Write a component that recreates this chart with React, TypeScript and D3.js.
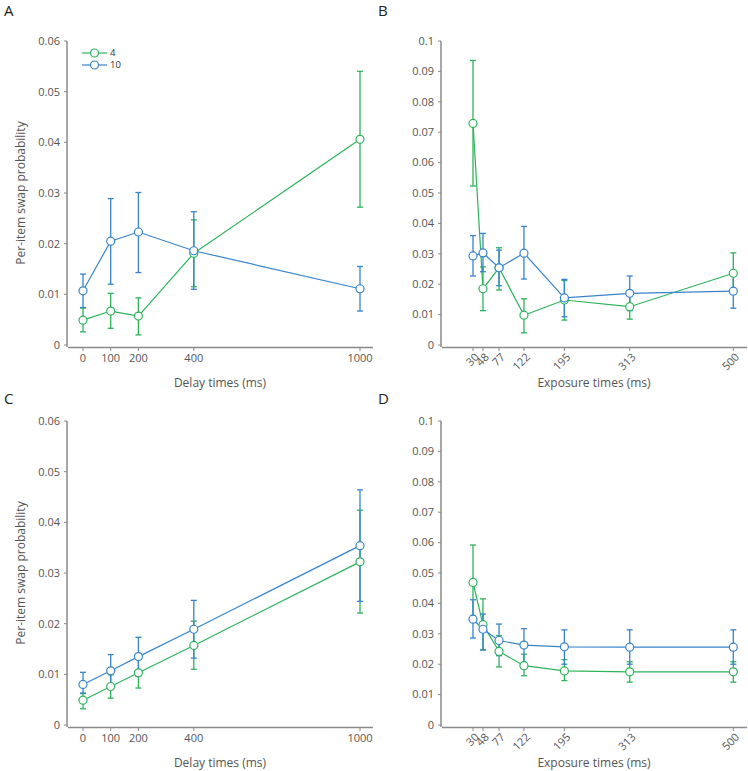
import React from "react";
import * as d3 from "d3";

const GREEN = "#2db35a";
const BLUE = "#3784cc";
const AXIS = "#8a8a8a";
const TEXT = "#555";

// Panel A / C: delay times
const delayTimes = [0, 100, 200, 400, 1000];
const delayTicks = [0, 100, 200, 400, 1000];
const delayYTicks = [0, 0.01, 0.02, 0.03, 0.04, 0.05, 0.06];

// Panel B / D: exposure times
const exposureTimes = [30, 48, 77, 122, 195, 313, 500];
const exposureTicks = [30, 48, 77, 122, 195, 313, 500];
const exposureYTicks = [0, 0.01, 0.02, 0.03, 0.04, 0.05, 0.06, 0.07, 0.08, 0.09, 0.1];

// A
const aGreen = [0.0049, 0.0067, 0.0057, 0.0181, 0.0406];
const aGreenLo = [0.0026, 0.0033, 0.002, 0.0115, 0.0272];
const aGreenHi = [0.0073, 0.0102, 0.0093, 0.0247, 0.054];
const aBlue = [0.0107, 0.0205, 0.0223, 0.0186, 0.0111];
const aBlueLo = [0.0074, 0.012, 0.0143, 0.011, 0.0067];
const aBlueHi = [0.014, 0.0289, 0.0301, 0.0263, 0.0155];

// B
const bGreen = [0.0729, 0.0185, 0.0254, 0.0098, 0.0148, 0.0126, 0.0236];
const bGreenLo = [0.0523, 0.0113, 0.0181, 0.004, 0.0082, 0.0085, 0.0168];
const bGreenHi = [0.0936, 0.0257, 0.032, 0.0152, 0.0212, 0.0168, 0.0303];
const bBlue = [0.0293, 0.0303, 0.0254, 0.0302, 0.0155, 0.017, 0.0177];
const bBlueLo = [0.0227, 0.0241, 0.0195, 0.0217, 0.0093, 0.0113, 0.0121];
const bBlueHi = [0.036, 0.0367, 0.0312, 0.039, 0.0216, 0.0227, 0.0233];

// C
const cGreen = [0.0049, 0.0076, 0.0103, 0.0157, 0.0322];
const cGreenLo = [0.0032, 0.0053, 0.0073, 0.011, 0.0221];
const cGreenHi = [0.0062, 0.0099, 0.013, 0.0205, 0.0424];
const cBlue = [0.008, 0.0107, 0.0135, 0.0189, 0.0354];
const cBlueLo = [0.0063, 0.0081, 0.0096, 0.0132, 0.0244];
const cBlueHi = [0.0104, 0.0139, 0.0173, 0.0246, 0.0464];

// D
const dGreen = [0.0469, 0.033, 0.0242, 0.0195, 0.0178, 0.0175, 0.0175];
const dGreenLo = [0.036, 0.0247, 0.0191, 0.0162, 0.0146, 0.0141, 0.0141];
const dGreenHi = [0.0592, 0.0415, 0.0294, 0.0233, 0.0215, 0.0208, 0.0208];
const dBlue = [0.0348, 0.0315, 0.0278, 0.0263, 0.0257, 0.0256, 0.0256];
const dBlueLo = [0.0286, 0.0247, 0.0228, 0.0206, 0.02, 0.02, 0.02];
const dBlueHi = [0.0412, 0.0365, 0.0332, 0.0317, 0.0313, 0.0313, 0.0313];

const legendLabels = ["4", "10"];

const FONT = "'Open Sans', 'Noto Sans', sans-serif";

type Series = { color: string; v: number[]; lo: number[]; hi: number[] };

function Panel(props: {
  ox: number;
  oy: number;
  label: string;
  labelY: number;
  xs: number[];
  xDomain: [number, number];
  xRange: [number, number];
  xTicks: number[];
  rotate: boolean;
  yMax: number;
  yTicks: number[];
  yFmt: (v: number) => string;
  xLabel: string;
  yLabel?: string;
  series: Series[];
  legend?: boolean;
}) {
  const { ox, oy } = props;
  const yTop = 41;
  const yBot = 345;
  const axisX = 67;
  const x = d3.scaleLinear().domain(props.xDomain).range(props.xRange);
  const y = d3.scaleLinear().domain([0, props.yMax]).range([yBot, yTop]);
  const line = d3
    .line<number>()
    .x((_, i) => x(props.xs[i]))
    .y((d) => y(d));
  const capW = 3;
  return (
    <g transform={`translate(${ox},${oy})`} fontFamily={FONT}>
      <text x={4} y={props.labelY} fontSize={15} fill="#222">
        {props.label}
      </text>
      {/* y axis */}
      <line x1={axisX} x2={axisX} y1={yTop} y2={yBot + 2} stroke={AXIS} strokeWidth={1.5} />
      {props.yTicks.map((t) => (
        <g key={t}>
          <line x1={axisX - 3} x2={axisX} y1={y(t)} y2={y(t)} stroke={AXIS} strokeWidth={1} />
          <text x={axisX - 7} y={y(t)} dy="0.35em" textAnchor="end" fontSize={11} fill={TEXT}>
            {props.yFmt(t)}
          </text>
        </g>
      ))}
      {/* x axis */}
      <line x1={axisX + 1} x2={373} y1={yBot + 2.5} y2={yBot + 2.5} stroke={AXIS} strokeWidth={1.5} />
      {props.xTicks.map((t) => (
        <g key={t}>
          <line x1={x(t)} x2={x(t)} y1={yBot + 2.5} y2={yBot + 6} stroke={AXIS} strokeWidth={1} />
          {props.rotate ? (
            <text
              transform={`translate(${x(t) + 4},${yBot + 10}) rotate(-45)`}
              textAnchor="end"
              dy="0.35em"
              fontSize={11}
              fill={TEXT}
            >
              {t}
            </text>
          ) : (
            <text x={x(t)} y={yBot + 13} dy="0.35em" textAnchor="middle" fontSize={11} fill={TEXT}>
              {t}
            </text>
          )}
        </g>
      ))}
      <text x={(axisX + 373) / 2} y={yBot + 42} textAnchor="middle" fontSize={12} fill={TEXT}>
        {props.xLabel}
      </text>
      {props.yLabel && (
        <text
          transform={`translate(${21},${(yTop + yBot) / 2}) rotate(-90)`}
          textAnchor="middle"
          dy="0.35em"
          fontSize={12}
          fill={TEXT}
        >
          {props.yLabel}
        </text>
      )}
      {props.series.map((s, si) => (
        <g key={si}>
          <path d={line(s.v) || ""} fill="none" stroke={s.color} strokeWidth={1.2} />
          {s.v.map((_, i) => {
            const cx = x(props.xs[i]);
            return (
              <g key={i} stroke={s.color} strokeWidth={1.3}>
                <line x1={cx} x2={cx} y1={y(s.lo[i])} y2={y(s.hi[i])} />
                <line x1={cx - capW} x2={cx + capW} y1={y(s.lo[i])} y2={y(s.lo[i])} />
                <line x1={cx - capW} x2={cx + capW} y1={y(s.hi[i])} y2={y(s.hi[i])} />
              </g>
            );
          })}
        </g>
      ))}
      {props.series.map((s, si) => (
        <g key={"m" + si}>
          {s.v.map((d, i) => (
            <circle key={i} cx={x(props.xs[i])} cy={y(d)} r={4} fill="#fff" stroke={s.color} strokeWidth={1.2} />
          ))}
        </g>
      ))}
      {props.legend && (
        <g>
          {props.series.map((s, i) => (
            <g key={i} transform={`translate(82,${53 + i * 12})`}>
              <line x1={0} x2={25} y1={0} y2={0} stroke={s.color} strokeWidth={1.2} />
              <circle cx={12.5} cy={0} r={4} fill="#fff" stroke={s.color} strokeWidth={1.2} />
              <text x={28} y={0} dy="0.35em" fontSize={9.5} fill="#333">
                {legendLabels[i]}
              </text>
            </g>
          ))}
        </g>
      )}
    </g>
  );
}

export default function App() {
  const fmtD = (v: number) => (v === 0 ? "0" : d3.format(".2f")(v));
  const fmtE = (v: number) => (v === 0 ? "0" : v === 0.1 ? "0.1" : d3.format(".2f")(v));
  return (
    <svg
      width={748}
      height={771}
      style={{ position: "absolute", left: 0, top: 0, background: "#fff" }}
    >
      <rect width={748} height={771} fill="#fff" />
      <Panel
        ox={0}
        oy={0}
        label="A"
        labelY={16}
        xs={delayTimes}
        xDomain={[0, 1000]}
        xRange={[83, 360]}
        xTicks={delayTicks}
        rotate={false}
        yMax={0.06}
        yTicks={delayYTicks}
        yFmt={fmtD}
        xLabel="Delay times (ms)"
        yLabel="Per-item swap probability"
        legend
        series={[
          { color: GREEN, v: aGreen, lo: aGreenLo, hi: aGreenHi },
          { color: BLUE, v: aBlue, lo: aBlueLo, hi: aBlueHi },
        ]}
      />
      <Panel
        ox={374}
        oy={0}
        label="B"
        labelY={16}
        xs={exposureTimes}
        xDomain={[30, 500]}
        xRange={[99, 359.3]}
        xTicks={exposureTicks}
        rotate
        yMax={0.1}
        yTicks={exposureYTicks}
        yFmt={fmtE}
        xLabel="Exposure times (ms)"
        series={[
          { color: GREEN, v: bGreen, lo: bGreenLo, hi: bGreenHi },
          { color: BLUE, v: bBlue, lo: bBlueLo, hi: bBlueHi },
        ]}
      />
      <Panel
        ox={0}
        oy={380}
        label="C"
        labelY={24}
        xs={delayTimes}
        xDomain={[0, 1000]}
        xRange={[83, 360]}
        xTicks={delayTicks}
        rotate={false}
        yMax={0.06}
        yTicks={delayYTicks}
        yFmt={fmtD}
        xLabel="Delay times (ms)"
        yLabel="Per-item swap probability"
        series={[
          { color: GREEN, v: cGreen, lo: cGreenLo, hi: cGreenHi },
          { color: BLUE, v: cBlue, lo: cBlueLo, hi: cBlueHi },
        ]}
      />
      <Panel
        ox={374}
        oy={380}
        label="D"
        labelY={24}
        xs={exposureTimes}
        xDomain={[30, 500]}
        xRange={[99, 359.3]}
        xTicks={exposureTicks}
        rotate
        yMax={0.1}
        yTicks={exposureYTicks}
        yFmt={fmtE}
        xLabel="Exposure times (ms)"
        series={[
          { color: GREEN, v: dGreen, lo: dGreenLo, hi: dGreenHi },
          { color: BLUE, v: dBlue, lo: dBlueLo, hi: dBlueHi },
        ]}
      />
    </svg>
  );
}
